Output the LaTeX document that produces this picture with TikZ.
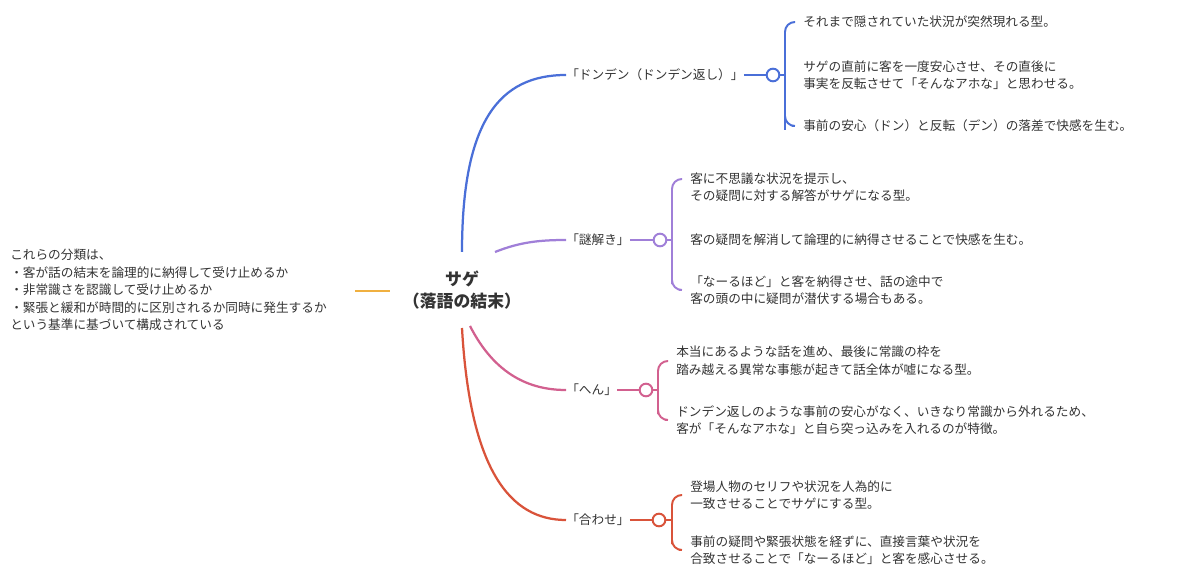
\documentclass[tikz,border=0pt]{standalone}
\usepackage{fontspec}
\setmainfont{Noto Sans CJK JP}
\usetikzlibrary{positioning}
\definecolor{cblue}{HTML}{4A6FD8}
\definecolor{cpurple}{HTML}{A07FD8}
\definecolor{cpink}{HTML}{D2608F}
\definecolor{cred}{HTML}{D9533A}
\definecolor{corange}{HTML}{F0B040}
\definecolor{ctext}{HTML}{333333}
\tikzset{
	every node/.style={text=ctext, font=\fontsize{9}{12.5}\selectfont},
	leaf/.style={anchor=west, align=left, inner sep=0pt},
	topic/.style={anchor=west, inner sep=0pt},
	hub/.style={circle, draw, fill=white, line width=1.4pt, minimum size=9pt, inner sep=0pt},
	branch/.style={line width=1.6pt},
	brace/.style={line width=1.4pt, rounded corners=7pt}
}
\begin{document}
\begin{tikzpicture}[x=0.025cm, y=-0.025cm]
	\useasboundingbox (0,0) rectangle (1200,582);
	% centre
	\node[font=\fontsize{12}{16}\selectfont\bfseries, align=center] (root) at (462,290) {サゲ\\（落語の結末）};
	\node[leaf] (note) at (10,290) {これらの分類は、\\・客が話の結末を論理的に納得して受け止めるか\\・非常識さを認識して受け止めるか\\・緊張と緩和が時間的に区別されるか同時に発生するか\\という基準に基づいて構成されている};
	\coordinate (nA) at (355,291);
	\coordinate (nB) at (390,291);
	\draw[corange, line width=1.6pt] (nA) -- (nB);
	% topics
	\node[topic] (t1) at (566,75) {「ドンデン（ドンデン返し）」};
	\node[topic] (t2) at (566,240) {「謎解き」};
	\node[topic] (t3) at (566,390) {「へん」};
	\node[topic] (t4) at (566,520) {「合わせ」};
	\coordinate (r1) at (462,252);
	\coordinate (r2) at (495,252);
	\coordinate (r3) at (470,326);
	\coordinate (r4) at (462,328);
	\draw[branch, cblue] (r1) .. controls (462,120) and (500,75) .. (t1.west);
	\draw[branch, cpurple] (r2) .. controls (520,242) and (540,240) .. (t2.west);
	\draw[branch, cpink] (r3) .. controls (495,375) and (530,390) .. (t3.west);
	\draw[branch, cred] (r4) .. controls (470,470) and (510,520) .. (t4.west);
	% hubs
	\node[hub, draw=cblue] (h1) at (773,75) {};
	\node[hub, draw=cpurple] (h2) at (660,240) {};
	\node[hub, draw=cpink] (h3) at (646,390) {};
	\node[hub, draw=cred] (h4) at (659,520) {};
	\draw[branch, cblue] (t1.east) -- (h1);
	\draw[branch, cpurple] (t2.east) -- (h2);
	\draw[branch, cpink] (t3.east) -- (h3);
	\draw[branch, cred] (t4.east) -- (h4);
	% leaves
	\node[leaf] (l11) at (803,22) {それまで隠されていた状況が突然現れる型。};
	\node[leaf] (l12) at (803,75) {サゲの直前に客を一度安心させ、その直後に\\事実を反転させて「そんなアホな」と思わせる。};
	\node[leaf] (l13) at (803,126) {事前の安心（ドン）と反転（デン）の落差で快感を生む。};
	\node[leaf] (l21) at (690,187) {客に不思議な状況を提示し、\\その疑問に対する解答がサゲになる型。};
	\node[leaf] (l22) at (690,240) {客の疑問を解消して論理的に納得させることで快感を生む。};
	\node[leaf] (l23) at (690,290) {「なーるほど」と客を納得させ、話の途中で\\客の頭の中に疑問が潜伏する場合もある。};
	\node[leaf] (l31) at (676,361) {本当にあるような話を進め、最後に常識の枠を\\踏み越える異常な事態が起きて話全体が嘘になる型。};
	\node[leaf] (l32) at (676,420) {ドンデン返しのような事前の安心がなく、いきなり常識から外れるため、\\客が「そんなアホな」と自ら突っ込みを入れるのが特徴。};
	\node[leaf] (l41) at (690,495) {登場人物のセリフや状況を人為的に\\一致させることでサゲにする型。};
	\node[leaf] (l42) at (690,550) {事前の疑問や緊張状態を経ずに、直接言葉や状況を\\合致させることで「なーるほど」と客を感心させる。};
	% braces
	\draw[brace, cblue] (h1.east) -- (785,75);
	\draw[brace, cblue] (l11.west) ++(-8,0) -| (785,120) |- ([xshift=-8pt]l13.west);
	\draw[brace, cpurple] (h2.east) -- (672,240);
	\draw[brace, cpurple] (l21.west) ++(-8,-8) -| (672,290) |- ([xshift=-8pt]l23.west);
	\draw[brace, cpink] (h3.east) -- (658,390);
	\draw[brace, cpink] (l31.west) ++(-8,0) -| (658,420) |- ([xshift=-8pt]l32.west);
	\draw[brace, cred] (h4.east) -- (672,520);
	\draw[brace, cred] (l41.west) ++(-8,0) -| (672,550) |- ([xshift=-8pt]l42.west);
\end{tikzpicture}
\end{document}
